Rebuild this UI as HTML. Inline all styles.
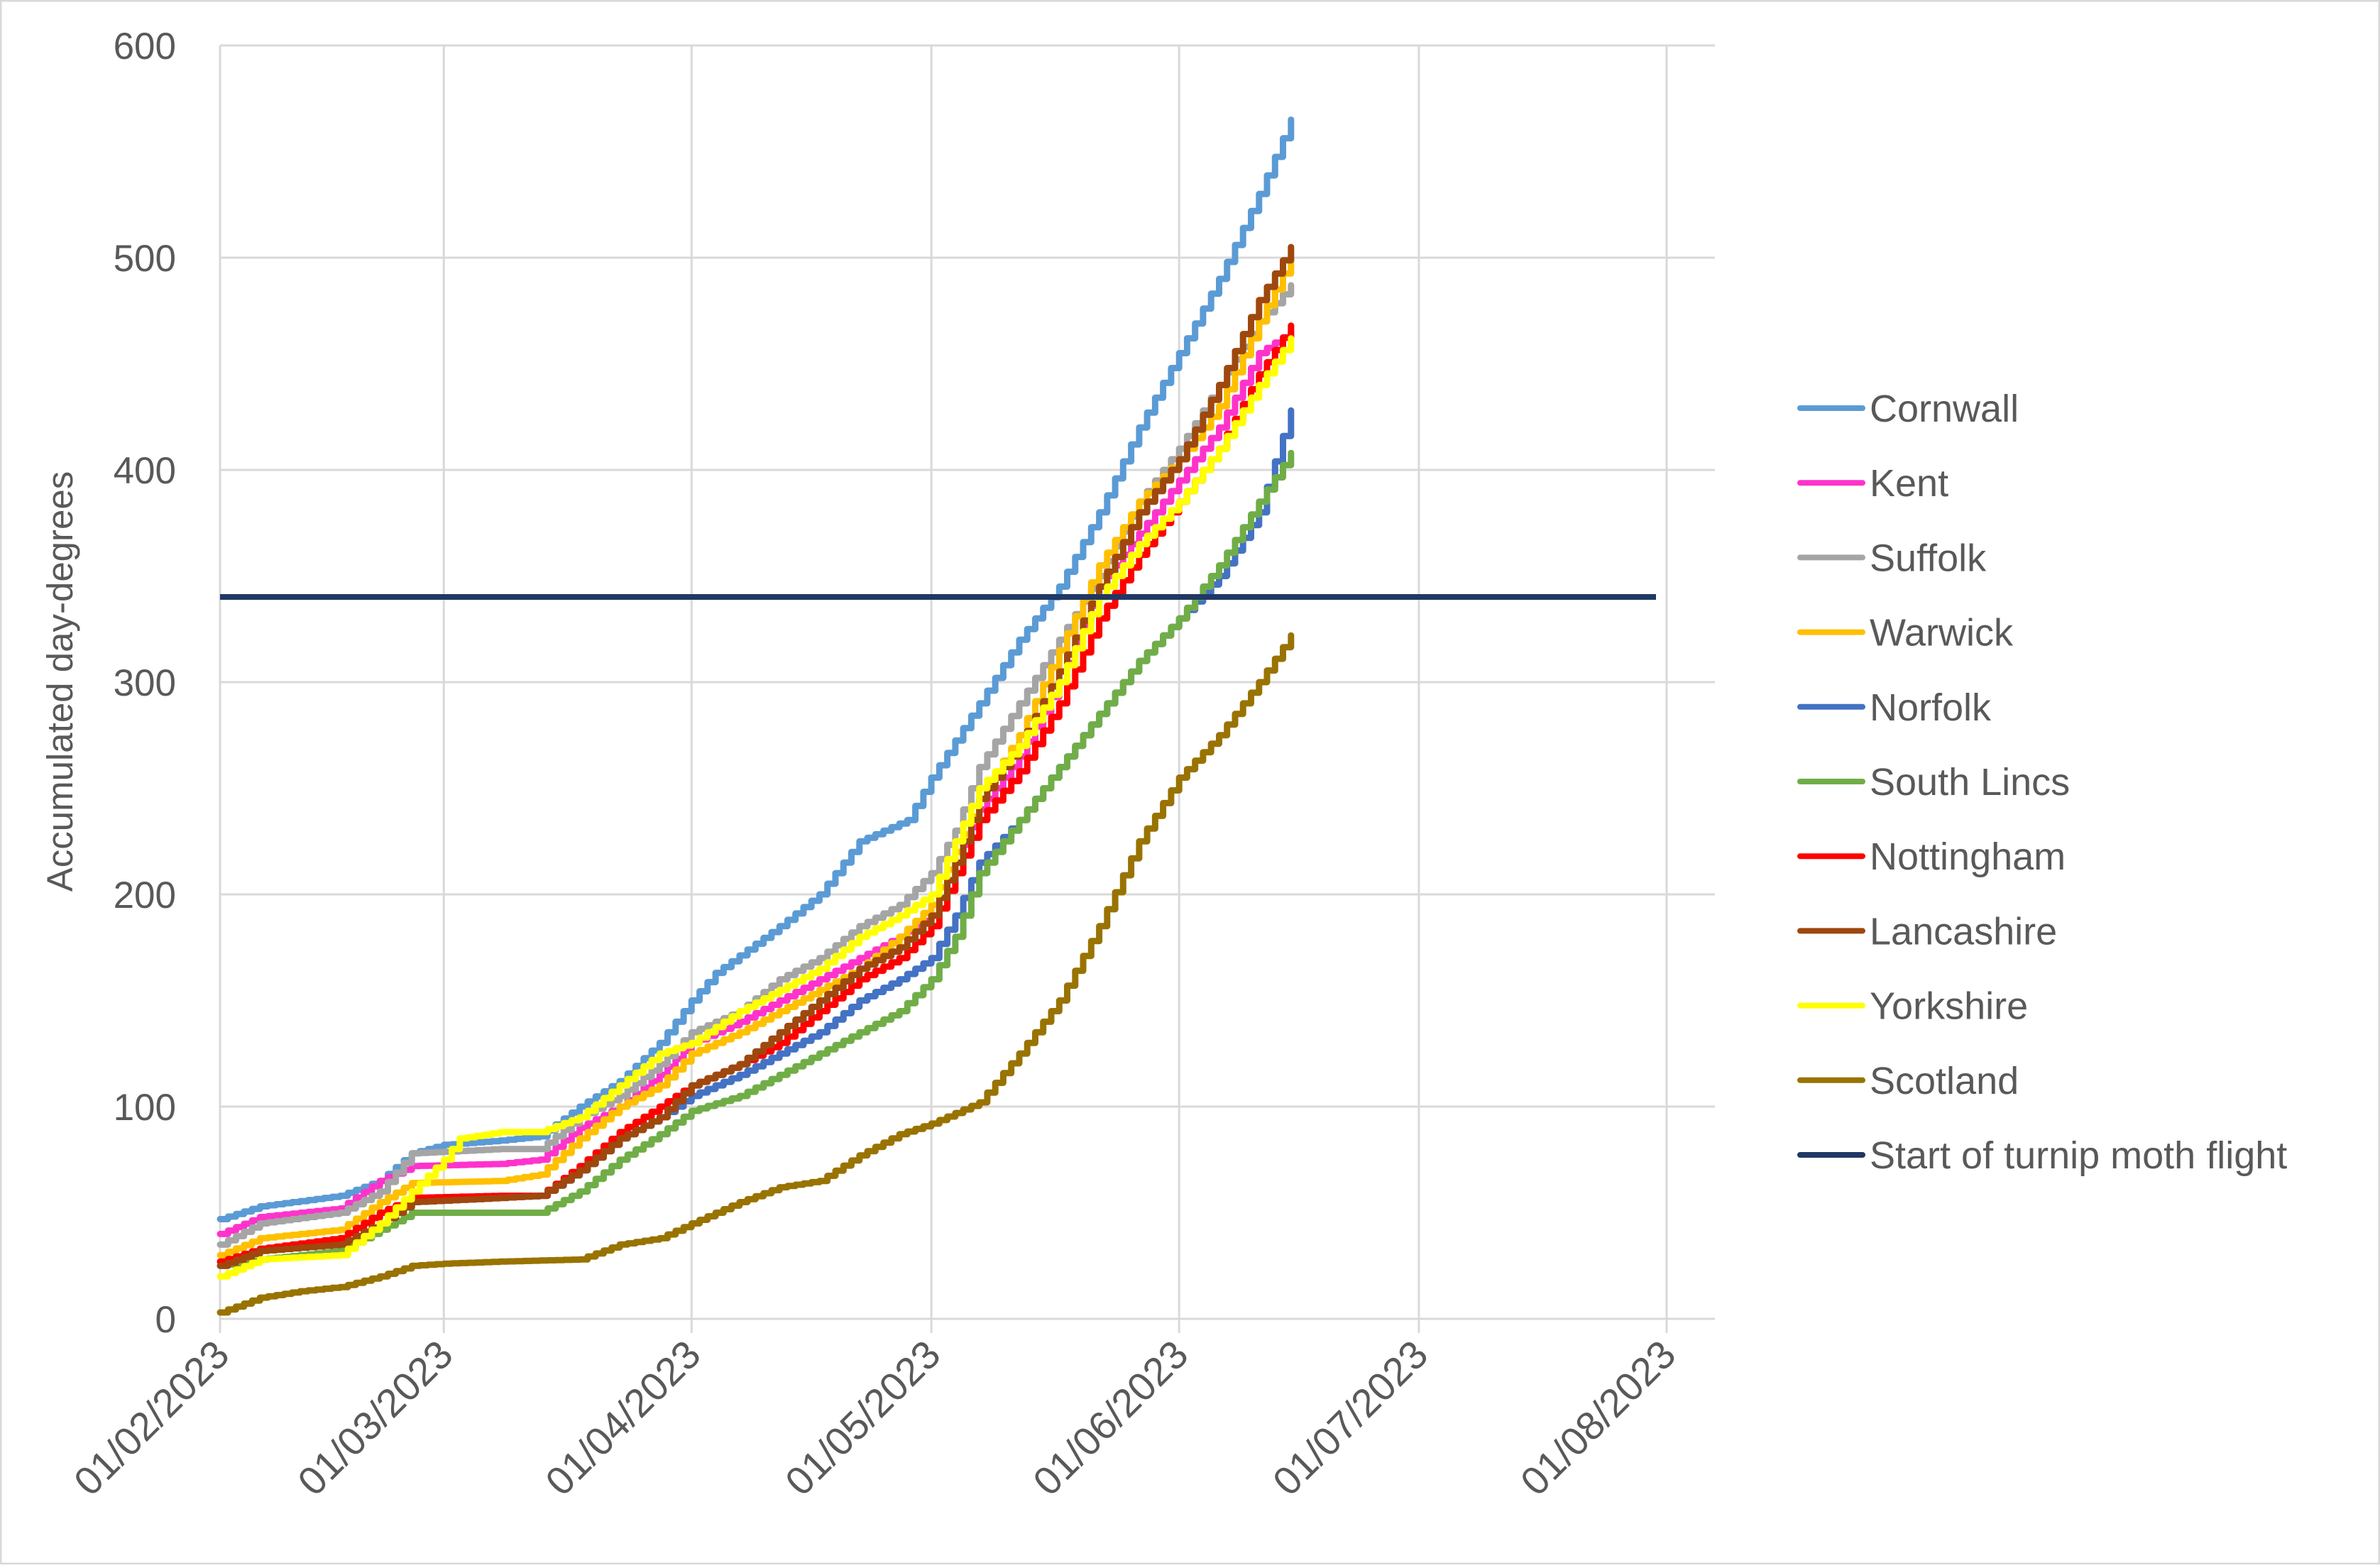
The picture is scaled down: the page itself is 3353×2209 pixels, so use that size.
<!DOCTYPE html>
<html><head><meta charset="utf-8"><style>
html,body{margin:0;padding:0;background:#fff}
svg text{font-family:"Liberation Sans",sans-serif;fill:#595959}
</style></head><body>
<svg id="s" width="3353" height="2204" xmlns="http://www.w3.org/2000/svg">
<rect x="1" y="1" width="3351" height="2202" fill="#fff" stroke="#d9d9d9" stroke-width="3"/>
<g id="grid" stroke="#d9d9d9" stroke-width="3"></g>
<g id="series" fill="none" stroke-width="9" stroke-linejoin="round" stroke-linecap="round"></g>
<line x1="310" y1="841" x2="2333" y2="841" stroke="#203864" stroke-width="8"/>
<g id="labels"></g>
<text transform="translate(102,960) rotate(-90)" text-anchor="middle" font-size="51">Accumulated day-degrees</text>
<g id="legend" font-size="54"></g>
</svg>
<script>
var NS="http://www.w3.org/2000/svg";
function X(d){return 310+d*(2348-310)/181;}
function Y(v){return 1858-v*2.99;}
function el(t,a,p,txt){var e=document.createElementNS(NS,t);for(var k in a)e.setAttribute(k,a[k]);if(txt!==undefined)e.textContent=txt;p.appendChild(e);return e;}
var g=document.getElementById('grid'),lb=document.getElementById('labels');
for(var v=0;v<=600;v+=100){el('line',{x1:310,y1:Y(v),x2:2416,y2:Y(v)},g);
 el('text',{x:248,y:Y(v)+19,'text-anchor':'end','font-size':53},lb,String(v));}
var days=[0,28,59,89,120,150,181],names=["01/02/2023","01/03/2023","01/04/2023","01/05/2023","01/06/2023","01/07/2023","01/08/2023"];
days.forEach(function(d,i){var x=X(d);el('line',{x1:x,y1:Y(600),x2:x,y2:1878},g);
 el('text',{transform:'translate('+(x+16)+',1912) rotate(-45)','text-anchor':'end','font-size':56},lb,names[i]);});
var S=[
["Cornwall","#5B9BD5",[[0,47],[5,53],[15,58],[20,65],[24,78],[28,82],[35,84],[40,86],[45,100],[50,112],[55,130],[59,150],[62,163],[70,185],[75,200],[80,225],[86,235],[89,255],[95,290],[100,320],[105,345],[110,380],[115,420],[120,455],[125,490],[130,530],[134,565]]],
["Kent","#FF33CC",[[0,40],[5,48],[15,52],[20,65],[24,72],[35,73],[40,75],[45,90],[50,100],[55,115],[59,130],[65,140],[70,150],[75,160],[80,170],[85,180],[89,190],[92,215],[95,240],[100,265],[105,300],[110,345],[115,370],[120,395],[125,420],[130,455],[134,465]]],
["Suffolk","#A5A5A5",[[0,35],[5,45],[15,50],[20,60],[24,78],[35,80],[40,80],[45,95],[50,105],[55,120],[59,135],[65,145],[70,160],[75,170],[80,185],[85,195],[89,210],[92,230],[95,260],[100,290],[105,320],[110,350],[115,385],[120,410],[125,440],[130,470],[134,487]]],
["Warwick","#FFC000",[[0,30],[5,38],[15,42],[20,55],[24,64],[35,65],[40,68],[45,85],[50,100],[55,110],[59,125],[65,135],[70,145],[75,155],[80,165],[85,180],[89,195],[92,220],[95,245],[100,275],[105,315],[110,355],[115,385],[120,405],[125,430],[130,470],[134,500]]],
["Norfolk","#4472C4",[[0,25],[5,33],[15,35],[20,45],[24,55],[35,57],[40,58],[45,70],[50,85],[55,95],[59,105],[65,115],[70,125],[75,135],[80,150],[85,160],[89,170],[92,190],[95,215],[100,235],[105,260],[110,285],[115,310],[120,330],[125,350],[130,380],[134,428]]],
["South Lincs","#70AD47",[[0,25],[5,28],[15,32],[20,42],[24,50],[35,50],[40,50],[45,60],[50,75],[55,87],[59,98],[65,105],[70,115],[75,125],[80,135],[85,145],[89,160],[92,180],[95,210],[100,235],[105,260],[110,285],[115,310],[120,330],[125,355],[130,385],[134,408]]],
["Nottingham","#FF0000",[[0,27],[5,33],[15,38],[20,50],[24,57],[35,58],[40,58],[45,72],[50,88],[55,100],[59,110],[65,120],[70,130],[75,145],[80,160],[85,170],[89,185],[92,210],[95,235],[100,258],[105,290],[110,330],[115,360],[120,385],[125,410],[130,445],[134,468]]],
["Lancashire","#9E480E",[[0,25],[5,32],[15,35],[20,45],[24,55],[35,57],[40,58],[45,70],[50,85],[55,95],[59,110],[65,120],[70,135],[75,150],[80,165],[85,175],[89,190],[92,215],[95,245],[100,270],[105,305],[110,345],[115,380],[120,405],[125,440],[130,480],[134,505]]],
["Yorkshire","#FFFF00",[[0,20],[5,28],[15,30],[20,45],[24,60],[28,75],[30,85],[35,88],[40,88],[45,95],[50,110],[55,125],[59,130],[65,145],[70,155],[75,165],[80,180],[85,190],[89,200],[92,225],[95,250],[100,270],[105,300],[110,340],[115,365],[120,385],[125,410],[130,440],[134,462]]],
["Scotland","#997300",[[0,3],[5,10],[10,13],[15,15],[20,20],[24,25],[28,26],[35,27],[45,28],[50,35],[55,38],[59,45],[65,55],[70,62],[75,65],[80,77],[85,87],[89,92],[95,102],[100,125],[105,150],[110,185],[115,225],[120,255],[125,275],[130,300],[134,322]]]
];
var sg=document.getElementById('series'),lg=document.getElementById('legend');
function interp(p,d){for(var i=1;i<p.length;i++){if(d<=p[i][0]){var a=p[i-1],b=p[i];return a[1]+(b[1]-a[1])*(d-a[0])/(b[0]-a[0]);}}return p[p.length-1][1];}
S.forEach(function(s){var p=s[2],d="M"+X(0)+" "+Y(p[0][1]);
 for(var k=1;k<=134;k++){var v=interp(p,k);d+=" H"+X(k).toFixed(1)+" V"+Y(v).toFixed(1);}
 el('path',{d:d,stroke:s[1]},sg);});
S.push(["Start of turnip moth flight","#203864"]);
S.forEach(function(s,i){var y=575+105.2*i;
 el('line',{x1:2536,y1:y,x2:2624,y2:y,stroke:s[1],'stroke-width':8,'stroke-linecap':'round'},lg);
 el('text',{x:2634,y:y+19},lg,s[0]);});
</script>
</body></html>
